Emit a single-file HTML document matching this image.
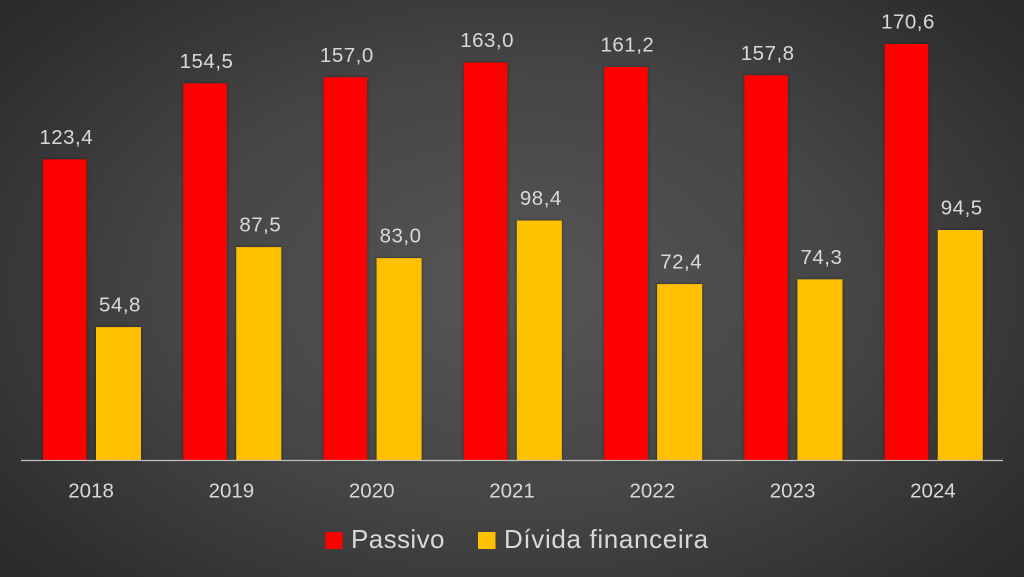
<!DOCTYPE html>
<html><head><meta charset="utf-8"><style>
html,body{margin:0;padding:0;}
body{width:1024px;height:577px;overflow:hidden;background:radial-gradient(ellipse 75% 85% at 50% 50%,#565656 0%,#454545 45%,#2e2e2e 80%,#232323 100%);}
svg{display:block;}
text{font-family:"Liberation Sans",Arial,sans-serif;fill:#d9d9d9;}
</style></head><body>
<svg width="1024" height="577" viewBox="0 0 1024 577" xmlns="http://www.w3.org/2000/svg">
<defs><filter id="sh" x="-20%" y="-5%" width="140%" height="110%"><feDropShadow dx="0" dy="0" stdDeviation="1.5" flood-color="#000" flood-opacity="0.45"/></filter></defs>
<g filter="url(#sh)">
<rect x="43" y="159.4" width="43.5" height="301.6" fill="#ff0000"/>
<rect x="96" y="327.1" width="45" height="133.9" fill="#ffc000"/>
<rect x="183.29" y="83.4" width="43.5" height="377.6" fill="#ff0000"/>
<rect x="236.29" y="247.1" width="45" height="213.9" fill="#ffc000"/>
<rect x="323.58" y="77.3" width="43.5" height="383.7" fill="#ff0000"/>
<rect x="376.58" y="258.1" width="45" height="202.9" fill="#ffc000"/>
<rect x="463.87" y="62.6" width="43.5" height="398.4" fill="#ff0000"/>
<rect x="516.87" y="220.5" width="45" height="240.5" fill="#ffc000"/>
<rect x="604.16" y="67.0" width="43.5" height="394.0" fill="#ff0000"/>
<rect x="657.16" y="284.1" width="45" height="176.9" fill="#ffc000"/>
<rect x="744.45" y="75.3" width="43.5" height="385.7" fill="#ff0000"/>
<rect x="797.45" y="279.4" width="45" height="181.6" fill="#ffc000"/>
<rect x="884.74" y="44.1" width="43.5" height="416.9" fill="#ff0000"/>
<rect x="937.74" y="230.0" width="45" height="231.0" fill="#ffc000"/>
</g>
<line x1="21" y1="460.5" x2="1003" y2="460.5" stroke="#bfbfbf" stroke-width="1.3"/>
<g font-size="20.5" text-anchor="middle" letter-spacing="0.5" transform="translate(1.5,0)">
<text x="64.75" y="143.9">123,4</text>
<text x="118.5" y="311.6">54,8</text>
<text x="205.04" y="67.9">154,5</text>
<text x="258.79" y="231.6">87,5</text>
<text x="345.33" y="61.8">157,0</text>
<text x="399.08" y="242.6">83,0</text>
<text x="485.62" y="47.1">163,0</text>
<text x="539.37" y="205.0">98,4</text>
<text x="625.91" y="51.5">161,2</text>
<text x="679.66" y="268.6">72,4</text>
<text x="766.2" y="59.8">157,8</text>
<text x="819.95" y="263.9">74,3</text>
<text x="906.49" y="28.6">170,6</text>
<text x="960.24" y="214.5">94,5</text>
</g>
<g font-size="20.5" text-anchor="middle">
<text x="91.1" y="497.5">2018</text>
<text x="231.4" y="497.5">2019</text>
<text x="371.7" y="497.5">2020</text>
<text x="512.0" y="497.5">2021</text>
<text x="652.3" y="497.5">2022</text>
<text x="792.6" y="497.5">2023</text>
<text x="932.9" y="497.5">2024</text>
</g>
<rect x="325.5" y="532" width="17" height="17" fill="#ff0000"/>
<text x="351" y="548" font-size="26" letter-spacing="0.4">Passivo</text>
<rect x="478" y="532" width="17.5" height="17" fill="#ffc000"/>
<text x="504" y="548" font-size="26" letter-spacing="0.65">Dívida financeira</text>
</svg>
</body></html>
